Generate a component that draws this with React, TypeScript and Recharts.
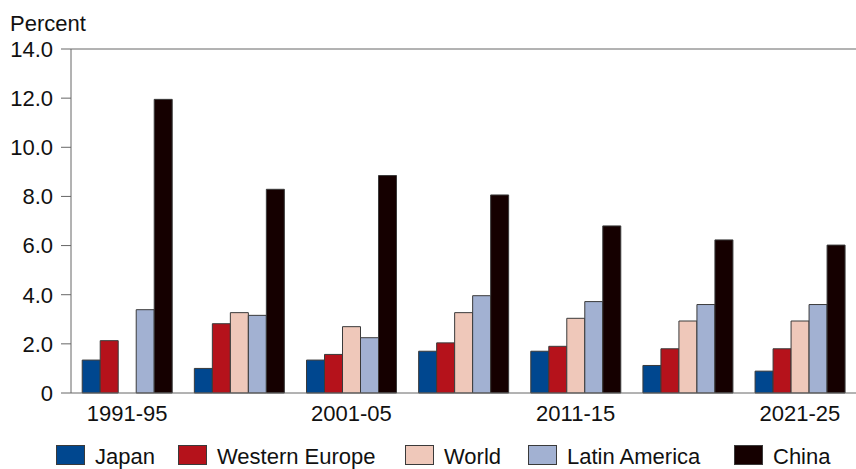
import React from 'react';
import { BarChart, Bar, XAxis, YAxis, ReferenceLine } from 'recharts';

const periods = ['1991-95', '1996-2000', '2001-05', '2006-10', '2011-15', '2016-20', '2021-25'];
const japan = [1.34, 1.0, 1.34, 1.7, 1.7, 1.12, 0.89];
const westernEurope = [2.13, 2.82, 1.57, 2.04, 1.9, 1.8, 1.8];
const world = [null, 3.27, 2.7, 3.27, 3.04, 2.93, 2.93];
const latinAmerica = [3.39, 3.16, 2.25, 3.96, 3.72, 3.6, 3.6];
const china = [11.95, 8.29, 8.85, 8.06, 6.8, 6.23, 6.02];
const yTicks = [0, 2, 4, 6, 8, 10, 12, 14];
const shownLabels = ['1991-95', '2001-05', '2011-15', '2021-25'];

const series = [
  { key: 'japan', name: 'Japan', color: '#00478f' },
  { key: 'westernEurope', name: 'Western Europe', color: '#b5121b' },
  { key: 'world', name: 'World', color: '#efc8ba' },
  { key: 'latinAmerica', name: 'Latin America', color: '#a2b1d2' },
  { key: 'china', name: 'China', color: '#150000' },
];

// legend swatch left edges, matched to the original layout
const legendLeft = [56, 178, 405, 528, 734];

const data = periods.map((period, i) => ({
  period,
  japan: japan[i],
  westernEurope: westernEurope[i],
  world: world[i],
  latinAmerica: latinAmerica[i],
  china: china[i],
}));

const font = '"Liberation Sans", Arial, Helvetica, sans-serif';
const axisColor = '#666';
const fontSize = 22;

export default function App() {
  return (
    <div style={{ position: 'absolute', left: 0, top: 0, width: 856, height: 469, fontFamily: font, background: '#fff' }}>
      <div style={{ position: 'absolute', left: 10, top: 13, fontSize, lineHeight: '22px', color: '#111' }}>
        Percent
      </div>
      <BarChart
        width={856}
        height={469}
        data={data}
        margin={{ top: 49, right: 0, bottom: 46, left: 0 }}
        barCategoryGap="10%"
        barGap={0}
      >
        <XAxis
          dataKey="period"
          height={30}
          interval={0}
          tickLine={false}
          tickSize={6}
          tickMargin={6}
          stroke={axisColor}
          tick={{ fontSize, fill: '#111', fontFamily: font }}
          tickFormatter={(v: string) => (shownLabels.includes(v) ? v : '')}
        />
        <YAxis
          width={71}
          domain={[0, 14]}
          ticks={yTicks}
          interval={0}
          tickSize={10}
          tickMargin={8}
          stroke={axisColor}
          tick={{ fontSize, fill: '#111', fontFamily: font }}
          tickFormatter={(v: number) => (v === 0 ? '0' : v.toFixed(1))}
        />
        <ReferenceLine y={14} stroke={axisColor} strokeWidth={1} />
        {series.map((s) => (
          <Bar
            key={s.key}
            dataKey={s.key}
            name={s.name}
            fill={s.color}
            stroke="#3a3a3a"
            strokeWidth={1}
            isAnimationActive={false}
          />
        ))}
      </BarChart>
      {series.map((s, i) => (
        <div
          key={s.key}
          style={{
            position: 'absolute',
            left: legendLeft[i],
            top: 445,
            display: 'flex',
            alignItems: 'center',
            fontSize,
            color: '#111',
            whiteSpace: 'nowrap',
          }}
        >
          <div style={{ width: 27, height: 18, background: s.color, border: '1px solid #3a3a3a' }} />
          <span style={{ marginLeft: 10, lineHeight: '20px', position: 'relative', top: 2 }}>{s.name}</span>
        </div>
      ))}
    </div>
  );
}
